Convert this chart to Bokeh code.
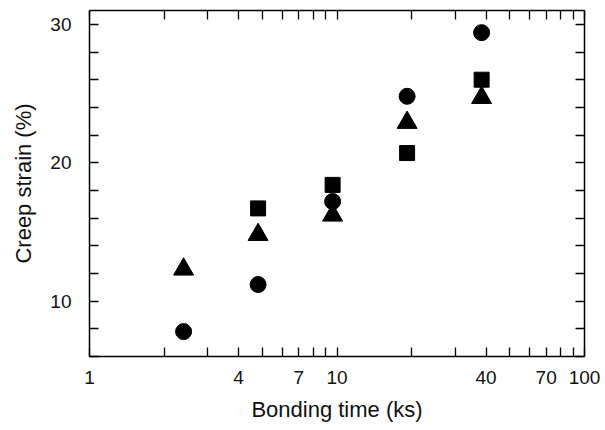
from bokeh.plotting import figure
from bokeh.models import Range1d, FixedTicker, LogAxis, LinearAxis, CustomJSTickFormatter
from bokeh.embed import file_html
from bokeh.resources import INLINE

# Data
bonding_time = [2.4, 4.8, 9.6, 19.2, 38.4]
circle_vals = [7.8, 11.2, 17.2, 24.8, 29.4]
triangle_vals = [12.3, 14.8, 16.2, 22.9, 24.7]
square_times = [4.8, 9.6, 19.2, 38.4]
square_vals = [16.7, 18.4, 20.7, 26.0]

x_major = [1, 4, 7, 10, 40, 70, 100]
x_minor = [2, 3, 5, 6, 8, 9, 20, 30, 50, 60, 80, 90]
y_major = [10, 20, 30]
y_minor = [6, 8, 12, 14, 16, 18, 22, 24, 26, 28]

FONT = "Liberation Sans"

p = figure(width=605, height=430, x_axis_type="log",
           x_range=Range1d(1, 100), y_range=Range1d(6, 31),
           output_backend="svg", toolbar_location=None,
           min_border_left=89, min_border_right=21,
           min_border_top=10, min_border_bottom=74)
p.grid.visible = False
p.outline_line_color = None
p.background_fill_color = "white"
p.border_fill_color = "white"

fmt = CustomJSTickFormatter(code="return String(tick);")
blank = CustomJSTickFormatter(code="return '';")

def style(ax):
    ax.axis_line_color = "black"
    ax.axis_line_width = 1.5
    ax.major_tick_in = 9
    ax.major_tick_out = 0
    ax.minor_tick_in = 9
    ax.minor_tick_out = 0
    ax.major_tick_line_width = 1.3
    ax.minor_tick_line_width = 1.3
    ax.major_tick_line_color = "black"
    ax.minor_tick_line_color = "black"
    ax.major_label_text_font = FONT
    ax.major_label_text_font_size = "19px"
    ax.major_label_text_color = "#111111"
    ax.axis_label_text_font = FONT
    ax.axis_label_text_font_size = "22px"
    ax.axis_label_text_font_style = "normal"
    ax.axis_label_text_color = "#111111"

xb = p.xaxis[0]
xb.ticker = FixedTicker(ticks=x_major, minor_ticks=x_minor)
xb.formatter = fmt
style(xb)
xb.major_label_standoff = 14
xb.axis_label = "Bonding time (ks)"
xb.axis_label_standoff = 10

yl = p.yaxis[0]
yl.ticker = FixedTicker(ticks=y_major, minor_ticks=y_minor)
style(yl)
yl.major_label_standoff = 18
yl.axis_label = "Creep strain (%)"
yl.axis_label_standoff = 11

xt = LogAxis(ticker=FixedTicker(ticks=x_major, minor_ticks=x_minor), formatter=blank)
style(xt)
xt.major_label_standoff = 0
p.add_layout(xt, "above")

yr = LinearAxis(ticker=FixedTicker(ticks=y_major, minor_ticks=y_minor), formatter=blank)
style(yr)
yr.major_label_standoff = 0
p.add_layout(yr, "right")

p.scatter(bonding_time, circle_vals, marker="circle", size=16, color="black")
p.scatter(bonding_time, triangle_vals, marker="triangle", size=20, color="black")
p.scatter(square_times, square_vals, marker="square", size=15, color="black")

open("out.html", "w").write(file_html(p, INLINE))
